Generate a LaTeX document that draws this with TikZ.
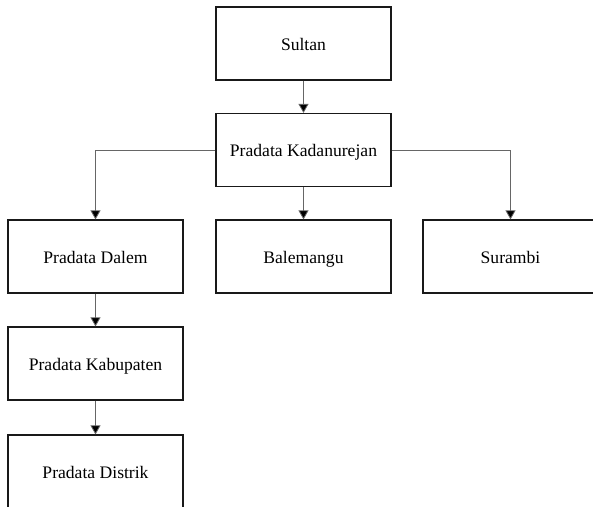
\documentclass[tikz,border=0pt]{standalone}
\usepackage{fontspec}
\setmainfont{Liberation Serif}
\usetikzlibrary{arrows.meta}
\begin{document}
\begin{tikzpicture}[x=1pt,y=-1pt,
  box/.style={draw=black!90,line width=1.2pt,fill=white,minimum width=175pt,minimum height=73pt,inner sep=0pt,text height=14.5pt,text depth=1.5pt,font=\fontsize{17.6}{20}\selectfont},
  conn/.style={draw=black!60,line width=0.8pt,-{Triangle[length=9pt,width=10pt,fill=black]}}]
\useasboundingbox (0,0) rectangle (593,506);
\clip (0,0) rectangle (593,506);
\node[box] (sultan) at (303.5,43.5) {Sultan};
\node[box] (kad) at (303.5,150) {Pradata Kadanurejan};
\node[box] (dalem) at (95.5,256.5) {Pradata Dalem};
\node[box] (bal) at (303.5,256.5) {Balemangu};
\node[box] (sur) at (510.5,256.5) {Surambi};
\node[box] (kab) at (95.5,363.5) {Pradata Kabupaten};
\node[box] (dis) at (95.5,471.5) {Pradata Distrik};
\draw[conn] (sultan) -- (kad);
\draw[conn] (kad.west) -| (dalem.north);
\draw[conn] (kad) -- (bal);
\draw[conn] (kad.east) -| (sur.north);
\draw[conn] (dalem) -- (kab);
\draw[conn] (kab) -- (dis);
\end{tikzpicture}
\end{document}
